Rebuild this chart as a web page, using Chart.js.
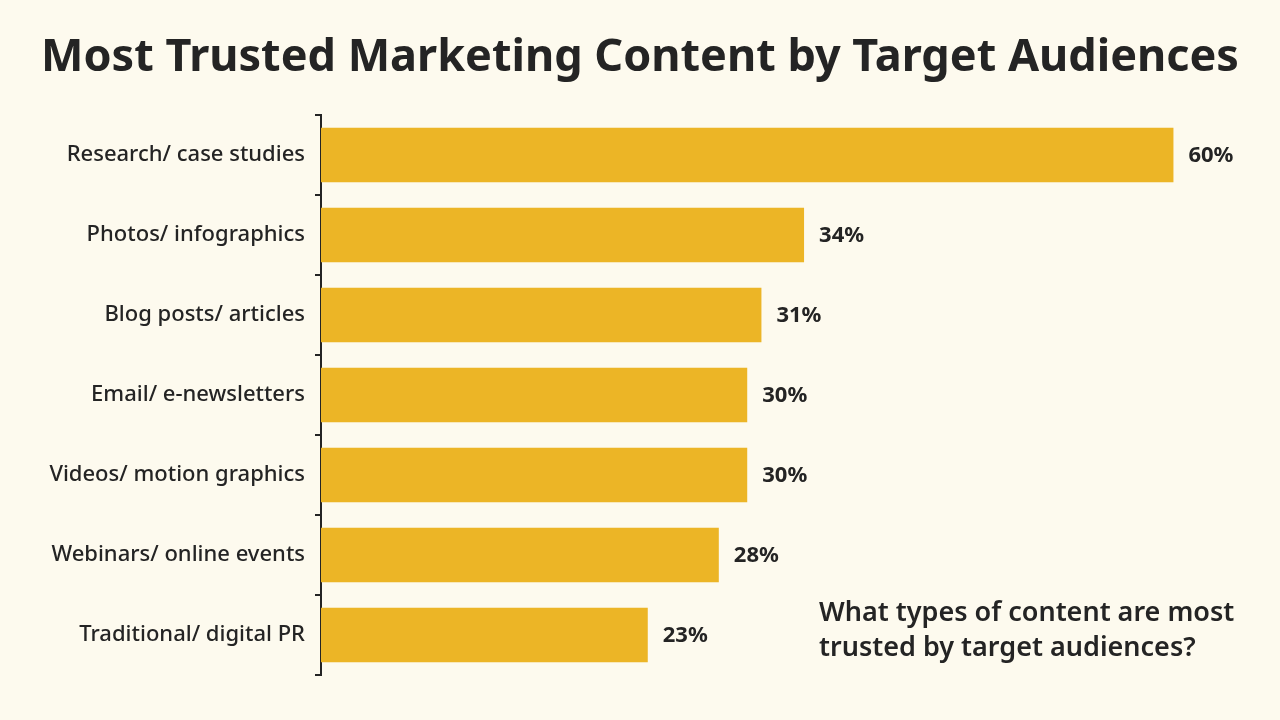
<!DOCTYPE html>
<html>
<head>
<meta charset="utf-8">
<script src="https://cdn.jsdelivr.net/npm/chart.js@4/dist/chart.umd.min.js"></script>
<style>
  html,body{margin:0;padding:0;background:#fdfaee;}
  #wrap{width:1280px;height:720px;}
</style>
</head>
<body>
<div id="wrap"><canvas id="trustChart" width="1280" height="720"></canvas></div>
<script>
const categories = ["Research/ case studies","Photos/ infographics","Blog posts/ articles","Email/ e-newsletters","Videos/ motion graphics","Webinars/ online events","Traditional/ digital PR"];
const shares = [60,34,31,30,30,28,23];
const valueLabels = ["60%","34%","31%","30%","30%","28%","23%"];
const noteLines = ["What types of content are most","trusted by target audiences?"];

const FONT = "'Noto Sans', Lato, sans-serif";
const INK = "#242424";

// value text at the end of each bar + note in the corner
const barText = {
    id:"barText",
    afterDatasetsDraw(chart){
        const ctx = chart.ctx;
        const meta = chart.getDatasetMeta(0);
        ctx.save();
        ctx.fillStyle = INK;
        ctx.font = "bold 22px " + FONT;
        ctx.textAlign = "left";
        ctx.textBaseline = "middle";
        meta.data.forEach((bar,i)=>{
            ctx.fillText(valueLabels[i], bar.x + 15, bar.y + 1);
        });
        ctx.font = "600 27px " + FONT;
        ctx.textBaseline = "alphabetic";
        noteLines.forEach((line,i)=>{
            ctx.fillText(line, 819, 621 + i*35);
        });
        ctx.restore();
    }
};

const ctx = document.getElementById("trustChart").getContext("2d");
new Chart(ctx,{
    type:"bar",
    data:{
        labels:categories,
        datasets:[{
            data:shares,
            backgroundColor:"#ecb526",
            barPercentage:0.68,
            categoryPercentage:1
        }]
    },
    options:{
        indexAxis:"y",
        responsive:false,
        animation:false,
        layout:{padding:{left:0,right:0,bottom:45,top:0}},
        plugins:{
            legend:{display:false},
            tooltip:{enabled:false},
            title:{
                display:true,
                text:"Most Trusted Marketing Content by Target Audiences",
                color:INK,
                font:{family:FONT,size:45,weight:"bold"},
                padding:{top:31,bottom:30}
            }
        },
        scales:{
            x:{display:false,min:0,max:67.5},
            y:{
                afterFit(scale){ scale.width = 321; },
                border:{display:true,color:INK,width:2},
                grid:{display:true,drawOnChartArea:false,drawTicks:true,tickLength:6,color:INK,lineWidth:2,offset:true},
                ticks:{color:INK,padding:10,font:{family:FONT,size:22,weight:"500"}}
            }
        }
    },
    plugins:[barText]
});
</script>
</body>
</html>
